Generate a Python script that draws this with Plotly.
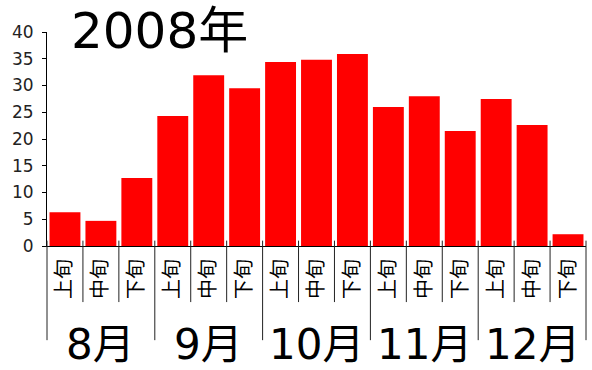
import plotly.graph_objects as go

# Ten-day periods (上旬/中旬/下旬) for August through December 2008
months = ["8月", "9月", "10月", "11月", "12月"]
periods = ["上旬", "中旬", "下旬"]
values = [6.3, 4.7, 12.7,
          24.3, 31.9, 29.5,
          34.4, 34.8, 35.9,
          26.0, 28.0, 21.5,
          27.5, 22.6, 2.2]
y_ticks = [0, 5, 10, 15, 20, 25, 30, 35, 40]
title_text = "2008年"

n = len(values)
xs = list(range(n))
tick_text = [periods[i % 3] for i in xs]

fig = go.Figure(go.Bar(
    x=xs, y=values,
    marker=dict(color="#ff0000", line=dict(width=0)),
    width=0.86,
))

# vertical separators below the axis: short between periods, long between months
shapes = []
for b in range(n + 1):
    px = b / n  # boundary position on the x domain (range is -0.5 .. n-0.5)
    long_line = (b % 3 == 0)
    shapes.append(dict(
        type="line", xref="paper", yref="paper",
        x0=px, x1=px, y0=0.025, y1=(-0.44 if long_line else -0.262),
        line=dict(color="#222222", width=1),
    ))

annotations = [dict(
    text=title_text, xref="paper", yref="paper",
    x=0.04, y=1.0066, xanchor="left", yanchor="middle",
    showarrow=False,
    font=dict(family="DejaVu Sans, Noto Sans CJK JP", size=50, color="#000000"),
)]
for m, name in enumerate(months):
    annotations.append(dict(
        text=name, xref="x", yref="paper",
        x=3 * m + 1, y=-0.46, xanchor="center", yanchor="middle",
        showarrow=False,
        font=dict(family="DejaVu Sans, Noto Sans CJK JP", size=42, color="#000000"),
    ))

fig.update_layout(
    width=592, height=370,
    margin=dict(l=47, r=6, t=32, b=124),
    paper_bgcolor="white", plot_bgcolor="white",
    showlegend=False,
    shapes=shapes,
    annotations=annotations,
    xaxis=dict(
        range=[-0.5, n - 0.5],
        tickmode="array", tickvals=xs, ticktext=tick_text,
        tickangle=-90, ticks="",
        ticklabelstandoff=4,
        showline=True, linecolor="#000000", linewidth=1,
        showgrid=False, zeroline=False,
        tickfont=dict(family="Noto Sans CJK JP", size=20, color="#000000"),
    ),
    yaxis=dict(
        range=[0, 40],
        tickmode="array", tickvals=y_ticks,
        ticks="outside", ticklen=4, tickcolor="#000000",
        showline=True, linecolor="#000000", linewidth=1,
        showgrid=False, zeroline=False,
        ticklabelstandoff=5,
        tickfont=dict(family="DejaVu Sans, Noto Sans CJK JP", size=17, color="#222222"),
    ),
)

fig.write_html("out.html")
